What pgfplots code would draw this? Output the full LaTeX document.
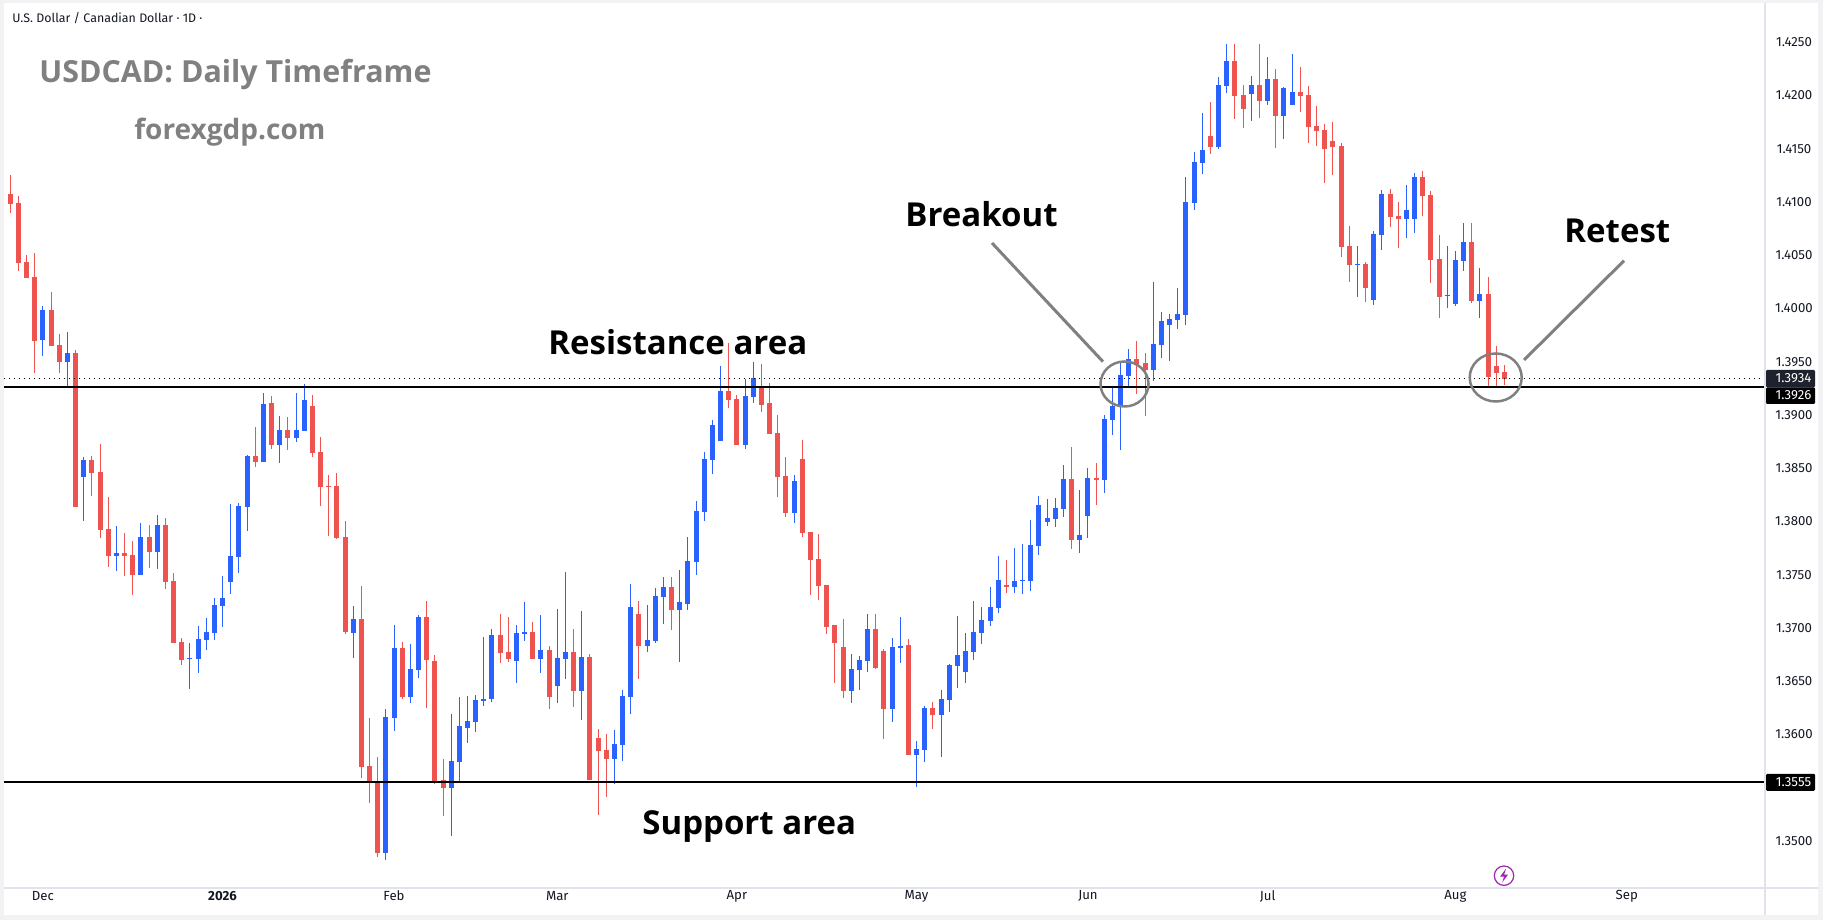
\documentclass[border=0pt]{standalone}
\usepackage{pgfplots}
\usepackage{pgfplotstable}
\usepackage{fontspec}
\pgfplotsset{compat=1.18}
\setmainfont{Open Sans}
\newfontfamily\tvfont{Fira Sans}
\definecolor{upc}{HTML}{2962FF}
\definecolor{dnc}{HTML}{EF5350}
\definecolor{frame}{HTML}{F2F2F5}
\definecolor{sep}{HTML}{E0E3EB}
\definecolor{tvtxt}{HTML}{131722}
\definecolor{lead}{HTML}{808080}
\definecolor{bolt}{HTML}{9C27B0}
\definecolor{tagdark}{HTML}{1E222D}
% x  high  bodytop  bodybottom  low
\pgfplotstableread{
x h t b l
4 1.40024 1.39986 1.39707 1.39557
7 1.39779 1.39582 1.39500 1.39256
9 1.38603 1.38577 1.38421 1.38007
13 1.37958 1.37704 1.37679 1.37538
16 1.37986 1.37854 1.37500 1.37500
18 1.38061 1.37967 1.37716 1.37557
22 1.36862 1.36718 1.36712 1.36430
23 1.37019 1.36897 1.36712 1.36580
24 1.37094 1.36962 1.36890 1.36796
25 1.37282 1.37216 1.36956 1.36890
26 1.37488 1.37282 1.37209 1.37012
27 1.38164 1.37676 1.37435 1.37322
28 1.38174 1.38146 1.37669 1.37519
29 1.38624 1.38615 1.38139 1.37914
31 1.39207 1.39103 1.38561 1.38561
33 1.38991 1.38859 1.38721 1.38552
35 1.39207 1.38859 1.38787 1.38749
36 1.39291 1.39141 1.38853 1.38853
42 1.37207 1.37084 1.36956 1.36721
46 1.36239 1.36164 1.34890 1.34824
47 1.37028 1.36812 1.36158 1.36033
49 1.36850 1.36615 1.36355 1.36299
50 1.37122 1.37103 1.36608 1.36533
54 1.36192 1.35751 1.35500 1.35050
55 1.36352 1.36080 1.35742 1.35544
56 1.36363 1.36127 1.36064 1.35920
57 1.36371 1.36324 1.36117 1.36028
58 1.36920 1.36338 1.36316 1.36263
59 1.36995 1.36938 1.36335 1.36305
62 1.37032 1.36956 1.36692 1.36479
63 1.37241 1.36967 1.36948 1.36878
65 1.37118 1.36797 1.36711 1.36580
67 1.37183 1.36721 1.36457 1.36296
68 1.37523 1.36779 1.36711 1.36523
70 1.37155 1.36732 1.36410 1.36136
74 1.36042 1.35911 1.35770 1.35535
75 1.36418 1.36363 1.35901 1.35751
76 1.37413 1.37194 1.36352 1.36194
78 1.37220 1.36891 1.36833 1.36779
79 1.37371 1.37296 1.36878 1.36862
80 1.37476 1.37382 1.37288 1.37042
82 1.37541 1.37241 1.37165 1.36685
83 1.37854 1.37629 1.37230 1.37165
84 1.38194 1.38099 1.37617 1.37494
85 1.38657 1.38589 1.38089 1.38005
86 1.38957 1.38902 1.38581 1.38448
87 1.39460 1.39221 1.38758 1.38758
90 1.39340 1.39174 1.38722 1.38681
91 1.39495 1.39343 1.39166 1.39113
96 1.38440 1.38382 1.38080 1.37986
103 1.36758 1.36617 1.36410 1.36296
104 1.36739 1.36703 1.36609 1.36418
105 1.37136 1.36995 1.36692 1.36587
108 1.36909 1.36826 1.36241 1.36117
109 1.37100 1.36831 1.36815 1.36671
111 1.35939 1.35864 1.35810 1.35510
112 1.36268 1.36249 1.35857 1.35744
114 1.36418 1.36333 1.36186 1.35791
115 1.36662 1.36652 1.36327 1.36214
116 1.37113 1.36746 1.36646 1.36439
117 1.36953 1.36784 1.36590 1.36486
118 1.37253 1.36962 1.36777 1.36699
119 1.37197 1.37075 1.36956 1.36850
120 1.37385 1.37197 1.37068 1.37022
121 1.37676 1.37451 1.37191 1.37144
123 1.37751 1.37441 1.37388 1.37331
124 1.37789 1.37451 1.37441 1.37322
125 1.38014 1.37779 1.37441 1.37350
126 1.38239 1.38155 1.37773 1.37688
127 1.38211 1.38033 1.37998 1.37961
128 1.38221 1.38127 1.38026 1.37951
129 1.38530 1.38399 1.38117 1.38045
131 1.38296 1.37873 1.37829 1.37707
132 1.38502 1.38408 1.38054 1.37848
134 1.39000 1.38962 1.38392 1.38270
135 1.39263 1.39085 1.38956 1.38815
136 1.39488 1.39376 1.39078 1.38674
137 1.39620 1.39526 1.39366 1.39263
140 1.40249 1.39667 1.39425 1.39322
141 1.39967 1.39883 1.39657 1.39538
142 1.39948 1.39901 1.39845 1.39510
143 1.40193 1.39948 1.39892 1.39810
144 1.41235 1.41000 1.39939 1.39848
145 1.41470 1.41376 1.40991 1.40925
146 1.41836 1.41488 1.41366 1.41266
148 1.42174 1.42099 1.41517 1.41501
149 1.42484 1.42324 1.42089 1.42026
152 1.42183 1.42099 1.42014 1.41764
154 1.42362 1.42155 1.41948 1.41914
156 1.42080 1.42071 1.41808 1.41594
157 1.42390 1.42033 1.41911 1.41911
165 1.40587 1.40418 1.40409 1.40111
167 1.40728 1.40700 1.40080 1.40036
168 1.41113 1.41075 1.40690 1.40552
171 1.41160 1.40925 1.40840 1.40665
172 1.41270 1.41235 1.40840 1.40712
176 1.40587 1.40127 1.40117 1.40008
177 1.40540 1.40455 1.40042 1.40026
178 1.40803 1.40624 1.40446 1.40355
180 1.40380 1.40136 1.40070 1.39914
}\uptable
\pgfplotstableread{
x h t b l
0 1.41254 1.41075 1.40984 1.40900
1 1.41056 1.40991 1.40430 1.40355
2 1.40500 1.40437 1.40289 1.40289
3 1.40518 1.40296 1.39698 1.39392
5 1.40152 1.39986 1.39651 1.39651
6 1.39758 1.39657 1.39500 1.39397
8 1.39610 1.39582 1.38139 1.38139
10 1.38615 1.38577 1.38458 1.38242
11 1.38728 1.38465 1.37923 1.37848
12 1.38230 1.37930 1.37679 1.37576
14 1.37892 1.37704 1.37679 1.37491
15 1.37817 1.37685 1.37500 1.37313
17 1.37967 1.37854 1.37716 1.37566
19 1.38033 1.37967 1.37435 1.37369
20 1.37516 1.37441 1.36862 1.36862
21 1.36906 1.36868 1.36702 1.36655
30 1.38887 1.38615 1.38559 1.38515
32 1.39178 1.39113 1.38721 1.38684
34 1.38981 1.38859 1.38787 1.38671
37 1.39188 1.39085 1.38646 1.38608
38 1.38793 1.38653 1.38327 1.38148
39 1.38437 1.38333 1.38324 1.37867
40 1.38455 1.38333 1.37848 1.37838
41 1.38005 1.37854 1.36965 1.36946
43 1.37394 1.37084 1.35698 1.35594
44 1.36155 1.35704 1.35547 1.35360
45 1.35789 1.35557 1.34890 1.34852
48 1.36868 1.36812 1.36355 1.36336
51 1.37253 1.37103 1.36702 1.36252
52 1.36746 1.36690 1.35557 1.35538
53 1.35770 1.35573 1.35500 1.35237
60 1.37136 1.36938 1.36768 1.36667
61 1.37100 1.36779 1.36711 1.36685
64 1.37061 1.36967 1.36711 1.36711
66 1.36831 1.36797 1.36352 1.36241
69 1.36995 1.36779 1.36410 1.36258
71 1.36758 1.36732 1.35569 1.35569
72 1.36052 1.35967 1.35845 1.35244
73 1.36005 1.35851 1.35770 1.35410
77 1.37249 1.37136 1.36833 1.36523
81 1.37476 1.37382 1.37165 1.36985
88 1.39676 1.39221 1.39137 1.39061
89 1.39188 1.39148 1.38722 1.38722
92 1.39479 1.39260 1.39098 1.39025
93 1.39296 1.39108 1.38826 1.38826
94 1.39004 1.38834 1.38418 1.38230
95 1.38610 1.38429 1.38080 1.38042
97 1.38769 1.38589 1.37892 1.37854
98 1.37901 1.37901 1.37635 1.37306
99 1.37883 1.37648 1.37390 1.37259
100 1.37400 1.37400 1.37014 1.36948
101 1.37032 1.37024 1.36862 1.36486
102 1.37089 1.36826 1.36410 1.36343
106 1.37136 1.36995 1.36624 1.36617
107 1.36805 1.36786 1.36241 1.35958
110 1.36897 1.36840 1.35810 1.35810
113 1.36305 1.36249 1.36183 1.36054
122 1.37638 1.37404 1.37388 1.37331
130 1.38700 1.38399 1.37829 1.37745
133 1.38549 1.38408 1.38390 1.38158
138 1.39695 1.39526 1.39479 1.39197
139 1.39582 1.39488 1.39425 1.38991
147 1.41939 1.41620 1.41517 1.41454
150 1.42484 1.42324 1.41995 1.41782
151 1.42099 1.42005 1.41873 1.41698
153 1.42484 1.42099 1.41948 1.41792
155 1.42249 1.42155 1.41808 1.41510
158 1.42268 1.42033 1.41995 1.41845
159 1.42089 1.42005 1.41704 1.41554
160 1.41902 1.41714 1.41667 1.41529
161 1.41732 1.41676 1.41498 1.41181
162 1.41751 1.41573 1.41517 1.41256
163 1.41554 1.41526 1.40578 1.40486
164 1.40775 1.40587 1.40409 1.40252
166 1.40437 1.40418 1.40193 1.40064
169 1.41122 1.41075 1.40859 1.40768
170 1.41000 1.40869 1.40840 1.40568
173 1.41291 1.41235 1.41056 1.40871
174 1.41101 1.41066 1.40455 1.40242
175 1.40690 1.40465 1.40108 1.39914
179 1.40803 1.40624 1.40070 1.40052
181 1.40296 1.40136 1.39357 1.39266
182 1.39648 1.39460 1.39394 1.39272
183 1.39470 1.39404 1.39338 1.39282
}\downtable
\begin{document}
\begin{tikzpicture}
\path[use as bounding box] (0,0) rectangle (911.5pt,460pt);
\fill[frame] (0,0) rectangle (911.5pt,460pt);
\fill[white] (2pt,2.5pt) rectangle (909pt,458.5pt);
\begin{axis}[
  at={(2pt,16pt)},anchor=south west,
  scale only axis,width=880.5pt,height=442.5pt,
  xmin=-0.772,xmax=214.93,ymin=1.345587,ymax=1.428686,
  axis line style={draw=none},
  major tick length=0pt,
  ytick={1.35,1.36,1.365,1.37,1.375,1.38,1.385,1.39,1.395,1.40,1.405,1.41,1.415,1.42,1.425},
  yticklabel pos=right,
  y tick label style={/pgf/number format/.cd,fixed,fixed zerofill,precision=4,assume math mode=true,/tikz/.cd,font=\tvfont\fontsize{6.6pt}{8pt}\selectfont,text=tvtxt,anchor=center,xshift=14.5pt},
  scaled y ticks=false,
  xtick={4,26,47,67,89,111,132,154,177,198},
  xticklabels={Dec,\textbf{2026},Feb,Mar,Apr,May,Jun,Jul,Aug,Sep},
  x tick label style={font=\tvfont\fontsize{6.6pt}{8pt}\selectfont,text=tvtxt,anchor=center,yshift=-4pt},
  clip=false,
]
% wicks
\addplot[draw=none,forget plot,error bars/.cd,y dir=both,y explicit,error mark=none,error bar style={draw=upc,line width=0.5pt}]
  table[x=x,y=b,y error plus expr=\thisrow{h}-\thisrow{b},y error minus expr=\thisrow{b}-\thisrow{l}]{\uptable};
\addplot[draw=none,forget plot,error bars/.cd,y dir=both,y explicit,error mark=none,error bar style={draw=dnc,line width=0.5pt}]
  table[x=x,y=b,y error plus expr=\thisrow{h}-\thisrow{b},y error minus expr=\thisrow{b}-\thisrow{l}]{\downtable};
% bodies
\addplot[draw=none,forget plot,error bars/.cd,y dir=plus,y explicit,error mark=none,error bar style={draw=upc,line width=2.5pt}]
  table[x=x,y=b,y error plus expr=\thisrow{t}-\thisrow{b}]{\uptable};
\addplot[draw=none,forget plot,error bars/.cd,y dir=plus,y explicit,error mark=none,error bar style={draw=dnc,line width=2.5pt}]
  table[x=x,y=b,y error plus expr=\thisrow{t}-\thisrow{b}]{\downtable};
% price levels
\addplot[forget plot,black,line width=0.5pt,dash pattern=on 0.5pt off 2pt] coordinates {(-0.772,1.39341) (214.93,1.39341)};
\addplot[forget plot,black,line width=0.95pt] coordinates {(-0.772,1.3926) (214.93,1.3926)};
\addplot[forget plot,black,line width=0.95pt] coordinates {(-0.772,1.3555) (214.93,1.3555)};
\end{axis}
\begin{scope}[shift={(0,460pt)},x=0.5pt,y=-0.5pt]
% panel separators
\draw[sep,line width=0.6pt] (1765,3) -- (1765,915);
\draw[sep,line width=0.6pt] (4,888) -- (1818,888);
% price tags
\fill[rounded corners=0.6pt,fill=tagdark] (1766,370) rectangle (1815,387.3);
\fill[rounded corners=0.6pt,fill=black] (1766,387.3) rectangle (1815,404);
\fill[rounded corners=0.6pt,fill=black] (1766,773.8) rectangle (1815,790.8);
\node[text=white,font=\tvfont\fontsize{6.6pt}{8pt}\selectfont] at (1793.5,378.6) {1.3934};
\node[text=white,font=\tvfont\fontsize{6.6pt}{8pt}\selectfont] at (1793.5,395.6) {1.3926};
\node[text=white,font=\tvfont\fontsize{6.6pt}{8pt}\selectfont] at (1793.5,782.3) {1.3555};
% header
\node[anchor=west,inner sep=0pt,text=tvtxt,font=\tvfont\fontsize{6.2pt}{8pt}\selectfont] at (12,18) {U.S. Dollar / Canadian Dollar · 1D ·};
\node[anchor=base west,inner sep=0pt,text=lead,font=\bfseries\fontsize{15.2pt}{18pt}\selectfont] at (39,83) {USDCAD: Daily Timeframe};
\node[anchor=base west,inner sep=0pt,text=lead,font=\bfseries\fontsize{14pt}{18pt}\selectfont] at (134,140) {forexgdp.com};
% annotations
\node[anchor=base west,inner sep=0pt,font=\bfseries\fontsize{16.5pt}{20pt}\selectfont] at (548,355) {Resistance area};
\node[anchor=base west,inner sep=0pt,font=\bfseries\fontsize{16.5pt}{20pt}\selectfont] at (642,834) {Support area};
\node[anchor=base west,inner sep=0pt,font=\bfseries\fontsize{16.5pt}{20pt}\selectfont] at (905,227) {Breakout};
\node[anchor=base west,inner sep=0pt,font=\bfseries\fontsize{16.5pt}{20pt}\selectfont] at (1564,243) {Retest};
\draw[lead,line width=1.5pt] (992,243) -- (1103,361.7);
\draw[lead,line width=1.5pt] (1524,360) -- (1624,260.7);
\draw[lead,line width=1.25pt] (1124.5,384) ellipse [x radius=24,y radius=22.5];
\draw[lead,line width=1.25pt] (1495.7,377.5) ellipse [x radius=26,y radius=24];
% event icon
\draw[bolt,line width=0.6pt] (1504,875.7) circle [radius=9.7];
\fill[bolt] (1506,868.7) -- (1500,876.7) -- (1504,876.7) -- (1502,882.7) -- (1508,874.7) -- (1504,874.7) -- cycle;
\end{scope}
\end{tikzpicture}
\end{document}
